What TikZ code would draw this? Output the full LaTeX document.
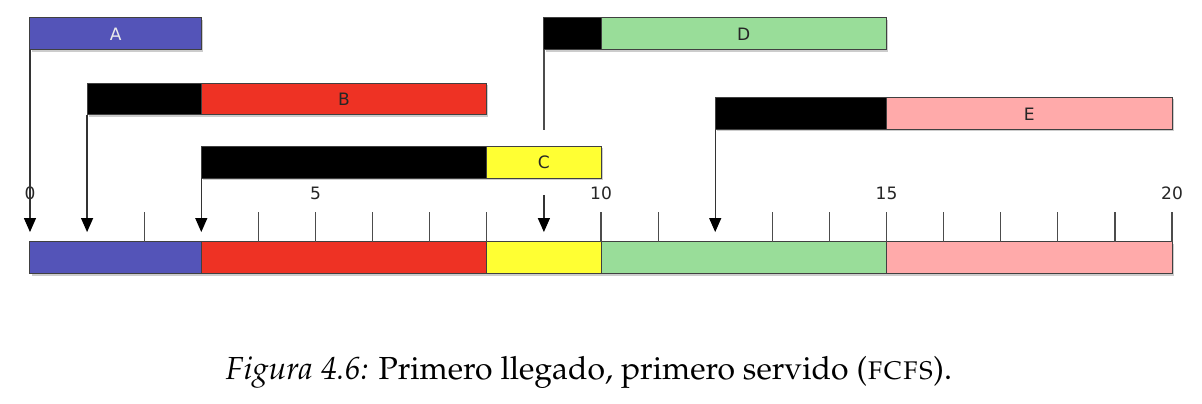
\documentclass[tikz,border=0pt]{standalone}
\usepackage[T1]{fontenc}
\usepackage{fontspec}
\setsansfont{DejaVu Sans}
\usepackage{tikz}
\usetikzlibrary{arrows.meta,positioning,shadows}
\definecolor{procA}{HTML}{5454B8}
\definecolor{procB}{HTML}{EE3224}
\definecolor{procC}{HTML}{FFFF33}
\definecolor{procD}{HTML}{99DD99}
\definecolor{procE}{HTML}{FFAAAA}
\newcommand{\palfont}{\fontencoding{T1}\fontfamily{ppl}\selectfont}

\begin{document}
\begin{tikzpicture}[
  bar/.style={draw=black!75,line width=0.5pt,minimum height=0.56cm,inner sep=0pt,
    outer sep=0pt,anchor=west,text=black!85,font=\sffamily\fontsize{8.5}{10}\selectfont,
    drop shadow={shadow xshift=0.8pt,shadow yshift=-0.8pt,opacity=0.4}},
  wait/.style={bar,fill=black},
  arr/.style={draw=black!80,line width=0.6pt,-{Triangle[length=7pt,width=6pt,color=black]}},
  tick/.style={draw=black!70,line width=0.6pt}]
\useasboundingbox (-0.525,0) rectangle (20.525,7.074);
\node[bar,fill=procA,text=white!92!black,minimum width=3cm] (A) at (0,6.48) {A};
\node[wait,minimum width=2cm] (Bw) at (1,5.34) {};
\node[bar,fill=procB,minimum width=5cm,right=0pt of Bw] (B) {B};
\node[wait,minimum width=5cm] (Cw) at (3,4.23) {};
\node[bar,fill=procC,minimum width=2cm,right=0pt of Cw] (C) {C};
\node[wait,minimum width=1cm] (Dw) at (9,6.48) {};
\node[bar,fill=procD,minimum width=5cm,right=0pt of Dw] (D) {D};
\node[wait,minimum width=3cm] (Ew) at (12,5.08) {};
\node[bar,fill=procE,minimum width=5cm,right=0pt of Ew] (E) {E};
\node[bar,fill=procA,minimum width=3cm] (tA) at (0,2.556) {};
\node[bar,fill=procB,minimum width=5cm,right=0pt of tA] (tB) {};
\node[bar,fill=procC,minimum width=2cm,right=0pt of tB] (tC) {};
\node[bar,fill=procD,minimum width=5cm,right=0pt of tC] (tD) {};
\node[bar,fill=procE,minimum width=5cm,right=0pt of tD] (tE) {};
\foreach \t in {2,4,5,6,7,8,10,11,13,14,15,16,17,18,19,20}
  \draw[tick] (tA.north west) ++(\t,0) -- ++(0,0.53);
\foreach \t in {0,5,10,15,20}
  \node[font=\sffamily\fontsize{8.5}{10}\selectfont,text=black!85] (n\t) at (\t,3.695) {\t};
\coordinate (tip) at (0,3.01);
\coordinate (Dgap) at (9,3.66);
\draw[arr] (A.south west) -- (A.south west |- tip);
\draw[arr] (Bw.south west) -- (Bw.south west |- tip);
\draw[arr] (Cw.south west) -- (Cw.south west |- tip);
\draw[tick] (Dw.south west) -- ++(0,-1.4);
\draw[arr] (Dgap) -- (Dgap |- tip);
\draw[arr] (Ew.south west) -- (Ew.south west |- tip);
\node[font=\palfont\fontsize{15.9}{19}\selectfont] (cap) at (9.79,0.543)
  {\textit{Figura 4.6:} Primero llegado, primero servido (\textsc{fcfs}).};
\end{tikzpicture}
\end{document}
